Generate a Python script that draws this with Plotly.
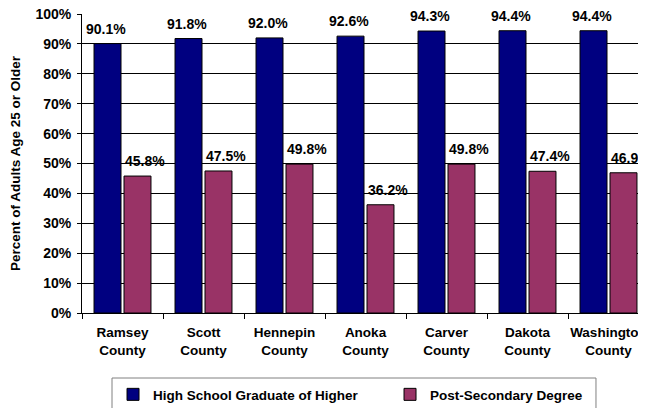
import plotly.graph_objects as go

categories = ["Ramsey<br>County", "Scott<br>County", "Hennepin<br>County", "Anoka<br>County",
              "Carver<br>County", "Dakota<br>County", "Washington<br>County"]
hs_grad = [90.1, 91.8, 92.0, 92.6, 94.3, 94.4, 94.4]
post_sec = [45.8, 47.5, 49.8, 36.2, 49.8, 47.4, 46.9]
series_names = ["High School Graduate of Higher", "Post-Secondary Degree"]
y_ticks = list(range(0, 101, 10))
y_tick_labels = [f"{v}%" for v in y_ticks]

FONT = "Liberation Sans, Arial, sans-serif"
BLUE = "#000080"
MAROON = "#993366"

fig = go.Figure()
fig.add_trace(go.Bar(x=categories, y=hs_grad, name=series_names[0],
                     marker=dict(color=BLUE, line=dict(color="#000000", width=1))))
fig.add_trace(go.Bar(x=categories, y=post_sec, name=series_names[1],
                     marker=dict(color=MAROON, line=dict(color="#000000", width=1))))

annotations = []
for i, (a, b) in enumerate(zip(hs_grad, post_sec)):
    for val, off in ((a, -0.204), (b, 0.272)):
        annotations.append(dict(x=i + off, y=val, xref="x", yref="y",
                                text=f"{val:.1f}%", showarrow=False,
                                yanchor="bottom", yshift=5,
                                font=dict(family=FONT, size=14, color="#000000", weight="bold")))

# page body adds an 8px margin, so the figure is 8px smaller in each direction
fig.update_layout(
    width=638, height=400,
    margin=dict(l=74, r=0, t=6, b=95, autoexpand=False),
    paper_bgcolor="#ffffff", plot_bgcolor="#ffffff",
    barmode="group", bargap=0.26, bargroupgap=0.1,
    font=dict(family=FONT, size=13.5, color="#000000", weight="bold"),
    annotations=annotations,
    showlegend=True,
    legend=dict(orientation="h", x=0.055, xanchor="left", y=-0.221, yanchor="top",
                borderwidth=0, bgcolor="rgba(0,0,0,0)",
                entrywidth=232, font=dict(family=FONT, size=13.5, color="#000000", weight="bold")),
    shapes=[dict(type="rect", xref="paper", yref="paper",
                 x0=0.0532, x1=0.9113, y0=-0.2174, y1=-0.33,
                 line=dict(color="#808080", width=1), fillcolor="rgba(0,0,0,0)", layer="below")],
)
fig.update_xaxes(type="category", range=[-0.5, 6.5 - 3 / 81], automargin=False,
                 showline=True, linecolor="#000000", linewidth=1, tickangle=0,
                 ticks="outside", tickson="boundaries", ticklen=5, tickcolor="#000000",
                 ticklabelstandoff=7, showgrid=False, fixedrange=True)
fig.update_yaxes(range=[0, 100], tickvals=y_ticks, ticktext=y_tick_labels, automargin=False,
                 showline=True, linecolor="#000000", linewidth=1,
                 ticks="outside", ticklen=4, tickcolor="#000000", ticklabeloverflow="allow",
                 ticklabelstandoff=3,
                 showgrid=True, gridcolor="#000000", gridwidth=1, zeroline=False,
                 title=dict(text="Percent of Adults Age 25 or Older", standoff=11,
                            font=dict(family=FONT, size=13.5, color="#000000", weight="bold")),
                 tickfont=dict(size=14))

fig.write_html("out.html")
